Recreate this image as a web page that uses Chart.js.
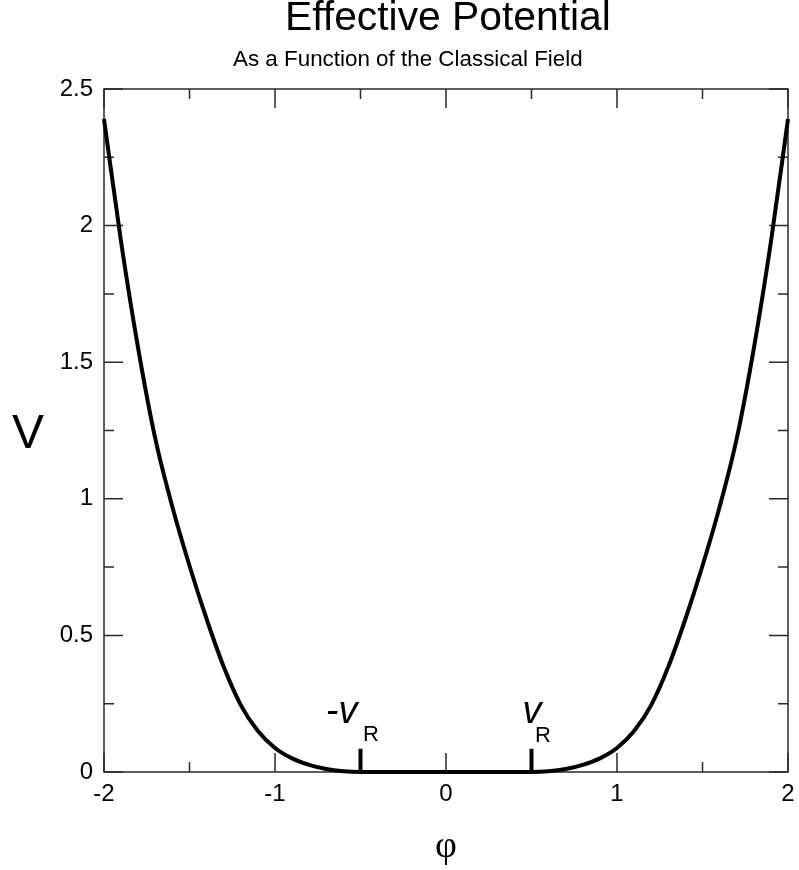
<!DOCTYPE html>
<html>
<head>
<meta charset="utf-8">
<title>Effective Potential</title>
<script src="https://cdn.jsdelivr.net/npm/chart.js@4.4.1/dist/chart.umd.min.js"></script>
<style>
  html, body { margin: 0; padding: 0; background: #fff; }
  #chart { display: block; }
</style>
</head>
<body>
<canvas id="chart" width="799" height="870"></canvas>
<script>
// potential curve on a 0.1 grid, flat between -vR and vR
var phi = [-2, -1.9, -1.8, -1.7, -1.6, -1.5, -1.4, -1.3, -1.2, -1.1, -1, -0.9, -0.8, -0.7, -0.6, -0.5,
           -0.4, -0.3, -0.2, -0.1, 0, 0.1, 0.2, 0.3, 0.4,
           0.5, 0.6, 0.7, 0.8, 0.9, 1, 1.1, 1.2, 1.3, 1.4, 1.5, 1.6, 1.7, 1.8, 1.9, 2];
var V = [2.39, 1.94, 1.55, 1.22, 0.97, 0.755, 0.56, 0.385, 0.245, 0.15, 0.088, 0.05, 0.026, 0.011, 0.003, 0,
         0, 0, 0, 0, 0, 0, 0, 0, 0,
         0, 0.003, 0.011, 0.026, 0.05, 0.088, 0.15, 0.245, 0.385, 0.56, 0.755, 0.97, 1.22, 1.55, 1.94, 2.39];

// the two vacuum markers
var vrPhi = [-0.5, 0.5];
var vrHeight = 0.085;

var xTicks = [-2, -1, 0, 1, 2];
var xMinor = [-1.5, -0.5, 0.5, 1.5];
var yTicks = [0, 0.5, 1, 1.5, 2, 2.5];
var yMinor = [0.25, 0.75, 1.25, 1.75, 2.25];

var SANS = '"Liberation Sans", Arial, sans-serif';
var INK = '#000';
var FRAME = '#2a2a2a';

function points(xs, ys) {
  return xs.map(function (x, i) { return { x: x, y: ys[i] }; });
}

// box round the plot with inward ticks on all four sides
var frameTicks = {
  id: 'frameTicks',
  beforeDatasetsDraw: function (chart) {
    var a = chart.chartArea, ctx = chart.ctx;
    var xs = chart.scales.x, ys = chart.scales.y;
    var major = 19, minor = 10;
    ctx.save();
    ctx.strokeStyle = FRAME;
    ctx.lineWidth = 1.5;
    ctx.strokeRect(a.left, a.top, a.right - a.left, a.bottom - a.top);
    ctx.beginPath();
    function vtick(v, len) {
      var px = xs.getPixelForValue(v);
      ctx.moveTo(px, a.bottom); ctx.lineTo(px, a.bottom - len);
      ctx.moveTo(px, a.top); ctx.lineTo(px, a.top + len);
    }
    function htick(v, len) {
      var py = ys.getPixelForValue(v);
      ctx.moveTo(a.left, py); ctx.lineTo(a.left + len, py);
      ctx.moveTo(a.right, py); ctx.lineTo(a.right - len, py);
    }
    xTicks.forEach(function (v) { vtick(v, major); });
    xMinor.forEach(function (v) { vtick(v, minor); });
    yTicks.forEach(function (v) { htick(v, major); });
    yMinor.forEach(function (v) { htick(v, minor); });
    ctx.stroke();
    ctx.restore();
  }
};

// titles, axis names and the vR labels
var labels = {
  id: 'labels',
  afterDraw: function (chart) {
    var ctx = chart.ctx, xs = chart.scales.x, ys = chart.scales.y;
    var base = ys.getPixelForValue(0);
    ctx.save();
    ctx.fillStyle = INK;
    ctx.textBaseline = 'alphabetic';
    ctx.textAlign = 'left';

    ctx.font = '40.8px ' + SANS;
    ctx.fillText('Effective Potential', 285, 30);
    ctx.font = '22.4px ' + SANS;
    ctx.fillText('As a Function of the Classical Field', 233, 66);

    ctx.font = '48px ' + SANS;
    ctx.fillText('V', 12, 448);

    ctx.font = '38px "Liberation Serif", "DejaVu Serif", serif';
    ctx.textAlign = 'center';
    ctx.fillText('\u03c6', (chart.chartArea.left + chart.chartArea.right) / 2, 857);

    var xl = xs.getPixelForValue(vrPhi[0]);
    var xr = xs.getPixelForValue(vrPhi[1]);
    ctx.font = 'italic 38px ' + SANS;
    ctx.textAlign = 'right';
    ctx.fillText('-v', xl - 3, base - 49);
    ctx.textAlign = 'left';
    ctx.fillText('v', xr - 9, base - 49);
    ctx.font = '22px ' + SANS;
    ctx.fillText('R', xl + 2.5, base - 31);
    ctx.fillText('R', xr + 3.5, base - 30);
    ctx.restore();
  }
};

var lineStyle = {
  borderColor: INK,
  borderWidth: 4,
  pointRadius: 0,
  fill: false,
  clip: 6
};

new Chart(document.getElementById('chart'), {
  type: 'line',
  data: {
    datasets: [
      Object.assign({ label: 'V', data: points(phi, V), cubicInterpolationMode: 'monotone' }, lineStyle),
      Object.assign({ label: '-vR', data: points([vrPhi[0], vrPhi[0]], [0, vrHeight]) }, lineStyle),
      Object.assign({ label: 'vR', data: points([vrPhi[1], vrPhi[1]], [0, vrHeight]) }, lineStyle)
    ]
  },
  options: {
    responsive: false,
    animation: false,
    devicePixelRatio: 1,
    layout: { padding: { top: 89, right: 11, bottom: 0, left: 0 } },
    plugins: { legend: { display: false }, tooltip: { enabled: false }, title: { display: false } },
    scales: {
      x: {
        type: 'linear',
        min: -2, max: 2,
        grid: { display: false, drawTicks: false },
        border: { display: false },
        afterBuildTicks: function (s) { s.ticks = xTicks.map(function (v) { return { value: v }; }); },
        afterFit: function (s) { s.height = 98; s.paddingLeft = 0; s.paddingRight = 0; },
        ticks: {
          color: INK, padding: 8, maxRotation: 0, autoSkip: false,
          font: { family: SANS, size: 24 },
          callback: function (v) { return String(v); }
        }
      },
      y: {
        type: 'linear',
        min: 0, max: 2.5,
        grid: { display: false, drawTicks: false },
        border: { display: false },
        afterBuildTicks: function (s) { s.ticks = yTicks.map(function (v) { return { value: v }; }); },
        afterFit: function (s) { s.width = 104; s.paddingTop = 0; s.paddingBottom = 0; },
        ticks: {
          color: INK, padding: 11, autoSkip: false,
          font: { family: SANS, size: 24 },
          callback: function (v) { return String(v); }
        }
      }
    }
  },
  plugins: [frameTicks, labels]
});
</script>
</body>
</html>
